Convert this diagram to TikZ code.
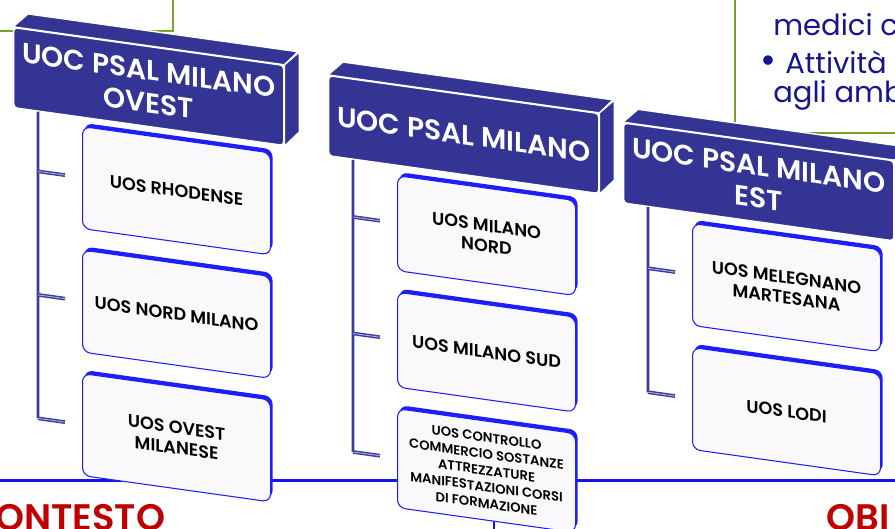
\documentclass[tikz,border=0pt]{standalone}
\usepackage{fontspec}
\setmainfont{Poppins}[BoldFont={Poppins SemiBold}]
\usetikzlibrary{calc, shadows}

\definecolor{hdrblue}{RGB}{52,52,148}
\definecolor{uosblue}{RGB}{30,30,250}
\definecolor{uosfill}{RGB}{249,249,251}
\definecolor{linkblue}{RGB}{58,58,160}
\definecolor{rulegreen}{RGB}{122,160,44}
\definecolor{rulenavy}{RGB}{22,22,140}
\definecolor{ruleblue}{RGB}{20,20,240}
\definecolor{titlered}{RGB}{192,0,0}

\tikzset{
  hdr/.style={fill=hdrblue, draw=white, line width=0.8pt, rounded corners=2pt,
    text=white, align=center, font=\bfseries\fontsize{16}{18.5}\selectfont,
    minimum width=5.4cm, minimum height=1.6cm, inner sep=0pt,
    anchor=north west, transform shape},
  face/.style={fill=hdrblue, draw=white, line width=0.8pt},
  uos/.style={fill=uosfill, draw=uosblue, line width=0.6pt, rounded corners=4.5pt,
    align=center, font=\bfseries\fontsize{10}{11.5}\selectfont,
    minimum width=3.76cm, minimum height=2.04cm, inner sep=0pt,
    anchor=north west, transform shape,
    general shadow={fill=uosblue, shadow xshift=1.2pt, shadow yshift=2pt}},
  trunk/.style={draw=linkblue, line width=1.5pt},
  stub/.style={draw=linkblue, double=white!60!linkblue, double distance=0.5pt, line width=0.8pt},
  slidetext/.style={anchor=base west, text=rulenavy, font=\fontsize{16.5}{19}\selectfont, inner sep=0pt},
  title/.style={anchor=base west, text=titlered, font=\bfseries\fontsize{21}{24}\selectfont, inner sep=0pt},
}

\begin{document}
\begin{tikzpicture}
\useasboundingbox (0,0) rectangle (17.9,-10.56);
\clip (0,0) rectangle (17.9,-10.56);

% slide frame lines
\draw[rulegreen, line width=0.9pt] (0,-0.62) -- (3.46,-0.62) -- (3.46,0.1);
\draw[rulegreen, line width=0.9pt] (14.7,0.1) -- (14.7,-2.66) -- (18,-2.66);
\draw[ruleblue, line width=1.7pt] (-0.1,-9.6) -- (18,-9.6);
\draw[ruleblue, line width=1.5pt] (9.88,-9.6) -- (9.88,-10.7);

% slide text
\node[slidetext] (medici) at (15.46,-0.70) {medici c};
\node[slidetext, font=\fontsize{22}{22}\selectfont] (bullet) at (15.2,-1.46) {\textbullet};
\node[slidetext] (attiv) at (15.7,-1.46) {Attività};
\node[slidetext] (agli) at (15.46,-2.04) {agli amb};

\node[title] (contesto) at (-0.1,-10.6) {ONTESTO};
\node[title] (obi) at (16.52,-10.6) {OBI};

\begin{scope}[yslant=-0.14]
% headers
\node[hdr] (ovest) at (0.26,-0.50) {UOC PSAL MILANO\\OVEST};
\node[hdr] (centro) at (6.56,-0.58) {UOC PSAL MILANO};
\node[hdr] (est) at (12.46,-0.70) {UOC PSAL MILANO\\EST};
\foreach \h in {ovest,centro,est} {
  \filldraw[face] (\h.north west) -- ++(0.3,0.3) -- ++(5.4,0) -- (\h.north east) -- cycle;
  \filldraw[face] (\h.north east) -- ++(0.3,0.3) -- ++(0,-1.6) -- (\h.south east) -- cycle;
}

% UOS boxes
\node[uos] (rho) at (1.64,-2.29) {UOS RHODENSE};
\node[uos] (nmil) at (1.64,-4.76) {UOS NORD MILANO};
\node[uos] (omil) at (1.64,-7.23) {UOS OVEST\\MILANESE};

\node[uos, minimum width=3.56cm, minimum height=1.9cm] (mnord) at (7.94,-2.39) {UOS MILANO\\NORD};
\node[uos, minimum width=3.56cm, minimum height=1.9cm] (msud) at (7.94,-4.72) {UOS MILANO SUD};
\node[uos, minimum width=3.56cm, minimum height=1.98cm,
  font=\bfseries\fontsize{7.5}{9.4}\selectfont] (ctrl) at (7.94,-7.05)
  {UOS CONTROLLO\\COMMERCIO SOSTANZE\\ATTREZZATURE\\MANIFESTAZIONI CORSI\\DI FORMAZIONE};

\node[uos] (meleg) at (13.84,-2.52) {UOS MELEGNANO\\MARTESANA};
\node[uos] (lodi) at (13.84,-5.00) {UOS LODI};

% branches
\draw[trunk] ($(ovest.south west)+(0.5,0)$) -- ($(omil.west)+(-0.88,0)$);
\draw[trunk] ($(centro.south west)+(0.5,0)$) -- ($(ctrl.west)+(-0.88,0)$);
\draw[trunk] ($(est.south west)+(0.5,0)$) -- ($(lodi.west)+(-0.88,0)$);
\foreach \c in {rho,nmil,omil,mnord,msud,ctrl,meleg,lodi}
  \draw[stub] ($(\c.west)+(-0.88,0)$) -- ($(\c.west)+(-0.34,0)$);
\end{scope}

\end{tikzpicture}
\end{document}
